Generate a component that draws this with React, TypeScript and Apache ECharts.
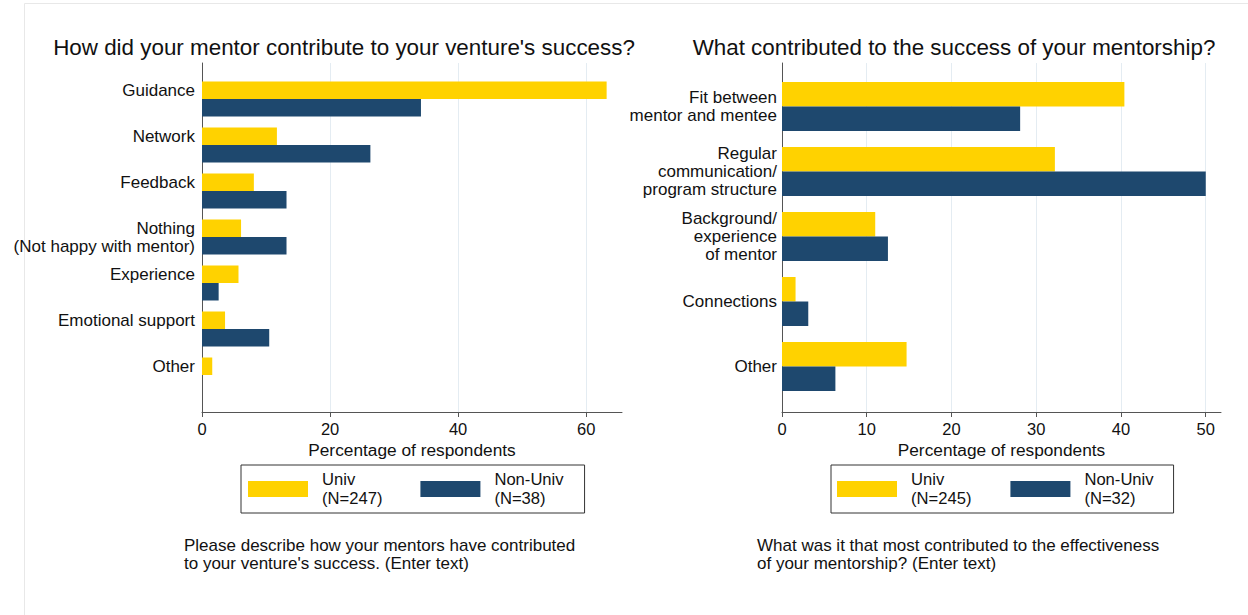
import React, { useEffect, useRef } from "react";
import * as echarts from "echarts";

const leftCategories = [
  "Guidance",
  "Network",
  "Feedback",
  "Nothing\n(Not happy with mentor)",
  "Experience",
  "Emotional support",
  "Other",
];
const leftUniv = [63.2, 11.7, 8.1, 6.1, 5.7, 3.6, 1.6];
const leftNonUniv = [34.2, 26.3, 13.2, 13.2, 2.6, 10.5, 0];
const leftTicks = [0, 20, 40, 60];
const leftSeriesNames = ["Univ\n(N=247)", "Non-Univ\n(N=38)"];

const rightCategories = [
  "Fit between\nmentor and mentee",
  "Regular\ncommunication/\nprogram structure",
  "Background/\nexperience\nof mentor",
  "Connections",
  "Other",
];
const rightUniv = [40.4, 32.2, 11.0, 1.6, 14.7];
const rightNonUniv = [28.1, 50.0, 12.5, 3.1, 6.3];
const rightTicks = [0, 10, 20, 30, 40, 50];
const rightSeriesNames = ["Univ\n(N=245)", "Non-Univ\n(N=32)"];

const leftTitle = "How did your mentor contribute to your venture's success?";
const rightTitle = "What contributed to the success of your mentorship?";
const axisTitle = "Percentage of respondents";
const leftCaption =
  "Please describe how your mentors have contributed\nto your venture's success. (Enter text)";
const rightCaption =
  "What was it that most contributed to the effectiveness\nof your mentorship? (Enter text)";

const FONT = '"Liberation Sans", Arial, Helvetica, sans-serif';
const YELLOW = "#FFD200";
const BLUE = "#1E486E";
const TEXT = "#111111";
const AXIS = "#555555";
const GRIDLINE = "#E4ECF2";

const LEFT_MAX = 65.6;
const RIGHT_MAX = 51.8;

function frameX(gridIndex: number, max: number, ticks: number[], step: number) {
  return {
    type: "value",
    gridIndex,
    min: 0,
    max,
    interval: step,
    axisLine: { show: true, onZero: false, lineStyle: { color: AXIS, width: 1 } },
    axisTick: { show: true, length: 5, customValues: ticks, lineStyle: { color: AXIS } },
    axisLabel: {
      customValues: ticks,
      fontSize: 16.5,
      fontFamily: FONT,
      color: TEXT,
      margin: 8,
    },
    splitLine: { show: true, lineStyle: { color: GRIDLINE, width: 1 } },
    name: axisTitle,
    nameLocation: "middle",
    nameGap: 25,
    nameTextStyle: { fontSize: 17.3, fontFamily: FONT, color: TEXT },
  };
}

function hiddenX(gridIndex: number, max: number) {
  return { type: "value", gridIndex, min: 0, max, show: false };
}

function frameY(gridIndex: number) {
  return {
    type: "value",
    gridIndex,
    min: 0,
    max: 1,
    axisLine: { show: true, onZero: false, lineStyle: { color: AXIS, width: 1 } },
    axisTick: { show: false },
    axisLabel: { show: false },
    splitLine: { show: false },
  };
}

function catY(gridIndex: number, data: string[], padSingle: boolean, margin: number) {
  return {
    type: "category",
    gridIndex,
    inverse: true,
    data,
    axisLine: { show: false },
    axisTick: { show: false },
    splitLine: { show: false },
    axisLabel: {
      fontSize: 17,
      fontFamily: FONT,
      color: TEXT,
      lineHeight: 18,
      margin,
      align: "right",
      formatter: (v: string) => (padSingle && v.indexOf("\n") < 0 ? v + "\n " : v),
    },
  };
}

function legendFor(names: string[], left: number, padRight: number, padLeft: number, gap: number) {
  return {
    data: names,
    left,
    top: 465,
    orient: "horizontal",
    icon: "rect",
    itemWidth: 60,
    itemHeight: 16,
    itemGap: gap,
    borderColor: "#333333",
    borderWidth: 1,
    padding: [5, padRight, 5, padLeft],
    selectedMode: false,
    textStyle: {
      fontSize: 16.6,
      fontFamily: FONT,
      color: TEXT,
      lineHeight: 19,
      padding: [0, 0, 0, 9],
    },
  };
}

export default function App() {
  const ref = useRef<HTMLDivElement>(null);

  useEffect(() => {
    if (!ref.current) return;
    const chart = echarts.init(ref.current, undefined, { renderer: "svg" });
    chart.setOption({
      animation: false,
      backgroundColor: "#ffffff",
      textStyle: { fontFamily: FONT },
      title: [
        {
          text: leftTitle,
          left: 339,
          top: 31,
          textAlign: "center",
          textStyle: { fontSize: 22.4, fontWeight: "normal", color: TEXT, fontFamily: FONT },
        },
        {
          text: rightTitle,
          left: 949,
          top: 31,
          textAlign: "center",
          textStyle: { fontSize: 22.4, fontWeight: "normal", color: TEXT, fontFamily: FONT },
        },
      ],
      legend: [
        legendFor(leftSeriesNames, 241, 21, 7, 38),
        legendFor(rightSeriesNames, 831, 20, 6, 39),
      ],
      grid: [
        { left: 202, top: 63, width: 420, height: 349 },
        { left: 202, top: 76, width: 420, height: 322 },
        { left: 782, top: 63, width: 439, height: 349 },
        { left: 782, top: 74, width: 439, height: 325 },
      ],
      xAxis: [
        frameX(0, LEFT_MAX, leftTicks, 20),
        hiddenX(1, LEFT_MAX),
        frameX(2, RIGHT_MAX, rightTicks, 10),
        hiddenX(3, RIGHT_MAX),
      ],
      yAxis: [
        frameY(0),
        catY(1, leftCategories, true, 7),
        frameY(2),
        catY(3, rightCategories, false, 5),
      ],
      series: [
        {
          type: "bar",
          name: leftSeriesNames[0],
          xAxisIndex: 1,
          yAxisIndex: 1,
          data: leftUniv,
          barWidth: 17.5,
          barGap: "0%",
          itemStyle: { color: YELLOW },
        },
        {
          type: "bar",
          name: leftSeriesNames[1],
          xAxisIndex: 1,
          yAxisIndex: 1,
          data: leftNonUniv,
          barWidth: 17.5,
          barGap: "0%",
          itemStyle: { color: BLUE },
        },
        {
          type: "bar",
          name: rightSeriesNames[0],
          xAxisIndex: 3,
          yAxisIndex: 3,
          data: rightUniv,
          barWidth: 24.5,
          barGap: "0%",
          itemStyle: { color: YELLOW },
        },
        {
          type: "bar",
          name: rightSeriesNames[1],
          xAxisIndex: 3,
          yAxisIndex: 3,
          data: rightNonUniv,
          barWidth: 24.5,
          barGap: "0%",
          itemStyle: { color: BLUE },
        },
      ],
      graphic: [
        {
          type: "rect",
          silent: true,
          shape: { x: 24.5, y: 3.5, width: 1240, height: 640 },
          style: { fill: "none", stroke: "#E8E8E8", lineWidth: 1 },
          z: -10,
        },
        {
          type: "text",
          left: 184,
          top: 536,
          style: { text: leftCaption, font: `17px ${FONT}`, lineHeight: 18, fill: TEXT },
        },
        {
          type: "text",
          left: 757,
          top: 536,
          style: { text: rightCaption, font: `17px ${FONT}`, lineHeight: 18, fill: TEXT },
        },
      ],
    });
    return () => chart.dispose();
  }, []);

  return (
    <div
      ref={ref}
      style={{ position: "absolute", left: 0, top: 0, width: 1248, height: 615 }}
    />
  );
}
